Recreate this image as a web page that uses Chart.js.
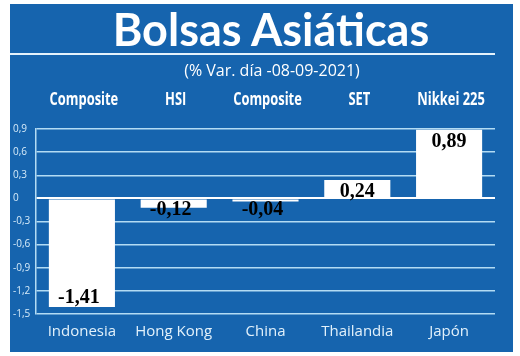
<!DOCTYPE html>
<html>
<head>
<meta charset="utf-8">
<script src="https://cdn.jsdelivr.net/npm/chart.js@4.4.0/dist/chart.umd.min.js"></script>
<style>
  html, body { margin: 0; padding: 0; background: #fff; }
  #panel { position: absolute; left: 10px; top: 4px; width: 503px; height: 348px; background: #1664ae; overflow: hidden; }
  #panel canvas { position: absolute; left: 0; top: 0; }
  .title { position: absolute; left: 0; width: 522px; top: 3px; text-align: center; color: #fff;
           font: bold 45px/45px Lato, sans-serif; }
  .rule { position: absolute; left: 0; top: 49px; width: 485px; height: 2px; background: #e4f2fc; }
  .sub { position: absolute; left: 0; width: 524px; top: 56px; text-align: center; color: #fff;
         font: 16px/20px "Open Sans", sans-serif; }
</style>
</head>
<body>
<div id="panel">
  <canvas id="chart" width="503" height="348"></canvas>
  <div class="title">Bolsas Asiáticas</div>
  <div class="rule"></div>
  <div class="sub">(% Var. día -08-09-2021)</div>
</div>
<script>
const countries = ["Indonesia", "Hong Kong", "China", "Thailandia", "Japón"];
const indices = ["Composite", "HSI", "Composite", "SET", "Nikkei 225"];
const variation = [-1.41, -0.12, -0.04, 0.24, 0.89];
const yTicks = [0.9, 0.6, 0.3, 0, -0.3, -0.6, -0.9, -1.2, -1.5];

const fmt = v => String(v).replace(".", ",");
const gridBlue = "#b3dcf4";

// index names above each column, squeezed to look condensed
const indexNames = {
  id: "indexNames",
  afterDraw(chart) {
    const ctx = chart.ctx;
    const xs = chart.scales.x;
    ctx.save();
    ctx.font = "bold 17px 'Open Sans'";
    ctx.fillStyle = "#ffffff";
    ctx.textAlign = "center";
    ctx.textBaseline = "middle";
    indices.forEach((name, i) => {
      ctx.save();
      ctx.translate(xs.getPixelForValue(i) + 2, 96);
      ctx.scale(0.76, 1);
      ctx.fillText(name, 0, 0);
      ctx.restore();
    });
    ctx.restore();
  }
};

// value labels at the end of each bar
const barValues = {
  id: "barValues",
  afterDatasetsDraw(chart) {
    const ctx = chart.ctx;
    const zero = chart.scales.y.getPixelForValue(0);
    ctx.save();
    ctx.font = "bold 20px 'Liberation Serif'";
    ctx.fillStyle = "#000";
    ctx.textAlign = "center";
    ctx.textBaseline = "middle";
    chart.getDatasetMeta(0).data.forEach((bar, i) => {
      const v = variation[i];
      if (v < 0) ctx.fillText(fmt(v), bar.x - 3, Math.max(bar.y - 9, zero + 11));
      else ctx.fillText(fmt(v), bar.x, bar.y + 12);
    });
    ctx.restore();
  }
};

new Chart(document.getElementById("chart"), {
  type: "bar",
  data: {
    labels: countries,
    datasets: [{
      data: variation,
      backgroundColor: "#ffffff",
      borderWidth: 0,
      barPercentage: 0.72,
      categoryPercentage: 1
    }]
  },
  options: {
    responsive: false,
    animation: false,
    layout: { padding: { left: 3, right: 18, top: 125, bottom: 2 } },
    plugins: {
      legend: { display: false },
      tooltip: { enabled: false }
    },
    scales: {
      x: {
        position: "bottom",
        grid: { display: false, drawTicks: false },
        border: { display: false },
        ticks: {
          color: "#e2f1fb",
          font: { family: "Open Sans", size: 15 },
          padding: 9,
          maxRotation: 0,
          minRotation: 0,
          autoSkip: false
        }
      },
      y: {
        min: -1.5,
        max: 0.9,
        afterBuildTicks: axis => { axis.ticks = yTicks.map(v => ({ value: v })); },
        afterFit: axis => { axis.width = 23; },
        grid: {
          color: ctx => ctx.tick && ctx.tick.value === 0 ? "#ffffff" : gridBlue,
          lineWidth: ctx => ctx.tick && ctx.tick.value === 0 ? 2 : 1.5,
          drawTicks: false
        },
        border: { display: true, color: gridBlue, width: 1.5 },
        ticks: {
          color: "#d6ebf9",
          font: { family: "Open Sans", size: 10 },
          padding: 4,
          crossAlign: "far",
          autoSkip: false,
          callback: v => fmt(Math.round(v * 10) / 10)
        }
      }
    }
  },
  plugins: [barValues, indexNames]
});
</script>
</body>
</html>
